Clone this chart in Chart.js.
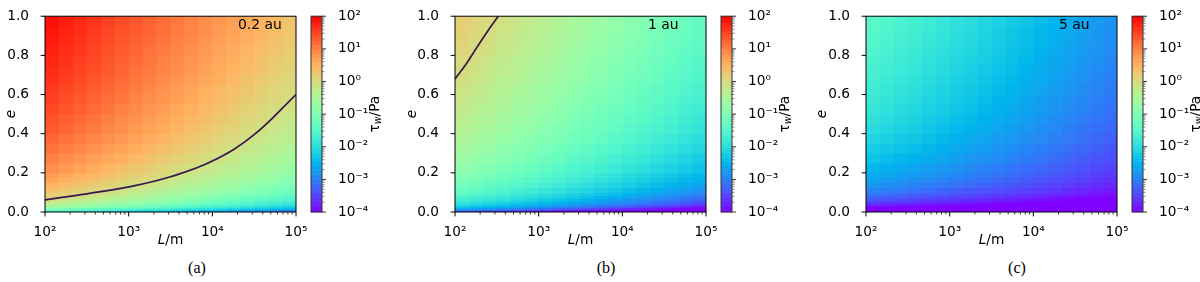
<!DOCTYPE html>
<html>
<head>
<meta charset="utf-8">
<script src="https://cdn.jsdelivr.net/npm/chart.js@4.4.1/dist/chart.umd.min.js"></script>
<style>
  body { margin: 0; background: #fff; }
  #wrap { position: relative; width: 1200px; height: 282px; overflow: hidden; }
  #wrap canvas { position: absolute; left: 0; top: 0; }
  .cap { position: absolute; top: 259px; line-height: 18px; font-size: 16px;
         font-family: "Liberation Serif", "DejaVu Serif", serif; transform: translateX(-50%); }
</style>
</head>
<body>
<div id="wrap">
  <div class="cap" style="left:197px">(a)</div>
  <div class="cap" style="left:606px">(b)</div>
  <div class="cap" style="left:1017px">(c)</div>
</div>
<script>
// bordes de las celdas: L en m (1/6 de década), e
const lEdges = [100, 147, 215, 316, 464, 681, 1000, 1468, 2154, 3162, 4642, 6813,
                10000, 14678, 21544, 31623, 46416, 68129, 100000];
const eEdges = [0, 0.005, 0.01, 0.02, 0.03, 0.04, 0.055, 0.07, 0.085, 0.1, 0.125, 0.15, 0.175, 0.2,
                0.25, 0.3, 0.35, 0.4, 0.45, 0.5, 0.55, 0.6, 0.65, 0.7, 0.75, 0.8, 0.85, 0.9, 0.95, 1.0];

const tau02 = [
  [-1.66, -1.75, -1.84, -1.93, -2.02, -2.11, -2.20, -2.29, -2.38, -2.47, -2.56, -2.65, -2.74, -2.83, -2.92, -3.01, -3.10, -3.19],
  [-1.51, -1.60, -1.69, -1.78, -1.87, -1.96, -2.05, -2.14, -2.23, -2.32, -2.41, -2.50, -2.59, -2.68, -2.77, -2.86, -2.95, -3.04],
  [-1.03, -1.12, -1.21, -1.30, -1.39, -1.48, -1.57, -1.66, -1.75, -1.84, -1.93, -2.02, -2.11, -2.20, -2.29, -2.38, -2.47, -2.56],
  [-0.67, -0.76, -0.85, -0.94, -1.03, -1.12, -1.21, -1.30, -1.39, -1.48, -1.57, -1.66, -1.75, -1.84, -1.93, -2.02, -2.11, -2.20],
  [-0.44, -0.53, -0.62, -0.71, -0.80, -0.89, -0.98, -1.07, -1.16, -1.25, -1.34, -1.43, -1.52, -1.61, -1.70, -1.79, -1.88, -1.97],
  [-0.23, -0.32, -0.41, -0.50, -0.59, -0.68, -0.77, -0.86, -0.95, -1.04, -1.13, -1.22, -1.31, -1.40, -1.49, -1.58, -1.67, -1.76],
  [-0.04, -0.13, -0.22, -0.31, -0.40, -0.49, -0.58, -0.67, -0.76, -0.85, -0.94, -1.03, -1.12, -1.21, -1.30, -1.39, -1.48, -1.57],
  [0.11, 0.02, -0.07, -0.16, -0.25, -0.34, -0.43, -0.52, -0.61, -0.70, -0.79, -0.88, -0.97, -1.06, -1.15, -1.24, -1.33, -1.42],
  [0.24, 0.15, 0.06, -0.03, -0.12, -0.21, -0.30, -0.39, -0.48, -0.57, -0.66, -0.75, -0.84, -0.93, -1.02, -1.11, -1.20, -1.29],
  [0.37, 0.28, 0.19, 0.10, 0.01, -0.08, -0.17, -0.26, -0.35, -0.44, -0.53, -0.62, -0.71, -0.80, -0.89, -0.98, -1.07, -1.16],
  [0.51, 0.42, 0.33, 0.24, 0.15, 0.06, -0.03, -0.12, -0.21, -0.30, -0.39, -0.48, -0.57, -0.66, -0.75, -0.84, -0.93, -1.02],
  [0.63, 0.54, 0.45, 0.36, 0.27, 0.18, 0.09, 0.00, -0.09, -0.18, -0.27, -0.36, -0.45, -0.54, -0.63, -0.72, -0.81, -0.90],
  [0.73, 0.64, 0.55, 0.46, 0.37, 0.28, 0.19, 0.10, 0.01, -0.08, -0.17, -0.26, -0.35, -0.44, -0.53, -0.62, -0.71, -0.80],
  [0.85, 0.76, 0.67, 0.58, 0.49, 0.40, 0.31, 0.22, 0.13, 0.04, -0.05, -0.14, -0.23, -0.32, -0.41, -0.50, -0.59, -0.68],
  [0.99, 0.90, 0.81, 0.72, 0.63, 0.54, 0.45, 0.36, 0.27, 0.18, 0.09, 0.00, -0.09, -0.18, -0.27, -0.36, -0.45, -0.54],
  [1.11, 1.02, 0.93, 0.84, 0.75, 0.66, 0.57, 0.48, 0.39, 0.30, 0.21, 0.12, 0.03, -0.06, -0.15, -0.24, -0.33, -0.42],
  [1.21, 1.12, 1.03, 0.94, 0.85, 0.76, 0.67, 0.58, 0.49, 0.40, 0.31, 0.22, 0.13, 0.04, -0.05, -0.14, -0.23, -0.32],
  [1.30, 1.21, 1.12, 1.03, 0.94, 0.85, 0.76, 0.67, 0.58, 0.49, 0.40, 0.31, 0.22, 0.13, 0.04, -0.05, -0.14, -0.23],
  [1.37, 1.28, 1.19, 1.10, 1.01, 0.92, 0.83, 0.74, 0.65, 0.56, 0.47, 0.38, 0.29, 0.20, 0.11, 0.02, -0.07, -0.16],
  [1.44, 1.35, 1.26, 1.17, 1.08, 0.99, 0.90, 0.81, 0.72, 0.63, 0.54, 0.45, 0.36, 0.27, 0.18, 0.09, 0.00, -0.09],
  [1.51, 1.42, 1.33, 1.24, 1.15, 1.06, 0.97, 0.88, 0.79, 0.70, 0.61, 0.52, 0.43, 0.34, 0.25, 0.16, 0.07, -0.02],
  [1.56, 1.47, 1.38, 1.29, 1.20, 1.11, 1.02, 0.93, 0.84, 0.75, 0.66, 0.57, 0.48, 0.39, 0.30, 0.21, 0.12, 0.03],
  [1.62, 1.53, 1.44, 1.35, 1.26, 1.17, 1.08, 0.99, 0.90, 0.81, 0.72, 0.63, 0.54, 0.45, 0.36, 0.27, 0.18, 0.09],
  [1.67, 1.58, 1.49, 1.40, 1.31, 1.22, 1.13, 1.04, 0.95, 0.86, 0.77, 0.68, 0.59, 0.50, 0.41, 0.32, 0.23, 0.14],
  [1.71, 1.62, 1.53, 1.44, 1.35, 1.26, 1.17, 1.08, 0.99, 0.90, 0.81, 0.72, 0.63, 0.54, 0.45, 0.36, 0.27, 0.18],
  [1.76, 1.67, 1.58, 1.49, 1.40, 1.31, 1.22, 1.13, 1.04, 0.95, 0.86, 0.77, 0.68, 0.59, 0.50, 0.41, 0.32, 0.23],
  [1.80, 1.71, 1.62, 1.53, 1.44, 1.35, 1.26, 1.17, 1.08, 0.99, 0.90, 0.81, 0.72, 0.63, 0.54, 0.45, 0.36, 0.27],
  [1.84, 1.75, 1.66, 1.57, 1.48, 1.39, 1.30, 1.21, 1.12, 1.03, 0.94, 0.85, 0.76, 0.67, 0.58, 0.49, 0.40, 0.31],
  [1.87, 1.78, 1.69, 1.60, 1.51, 1.42, 1.33, 1.24, 1.15, 1.06, 0.97, 0.88, 0.79, 0.70, 0.61, 0.52, 0.43, 0.34]
];
const tau1 = [
  [-3.32, -3.41, -3.50, -3.59, -3.68, -3.77, -3.86, -3.95, -4.00, -4.00, -4.00, -4.00, -4.00, -4.00, -4.00, -4.00, -4.00, -4.00],
  [-3.17, -3.26, -3.35, -3.44, -3.53, -3.62, -3.71, -3.80, -3.89, -3.98, -4.00, -4.00, -4.00, -4.00, -4.00, -4.00, -4.00, -4.00],
  [-2.69, -2.78, -2.87, -2.96, -3.05, -3.14, -3.23, -3.32, -3.41, -3.50, -3.59, -3.68, -3.77, -3.86, -3.95, -4.00, -4.00, -4.00],
  [-2.33, -2.42, -2.51, -2.60, -2.69, -2.78, -2.87, -2.96, -3.05, -3.14, -3.23, -3.32, -3.41, -3.50, -3.59, -3.68, -3.77, -3.86],
  [-2.10, -2.19, -2.28, -2.37, -2.46, -2.55, -2.64, -2.73, -2.82, -2.91, -3.00, -3.09, -3.18, -3.27, -3.36, -3.45, -3.54, -3.63],
  [-1.89, -1.98, -2.07, -2.16, -2.25, -2.34, -2.43, -2.52, -2.61, -2.70, -2.79, -2.88, -2.97, -3.06, -3.15, -3.24, -3.33, -3.42],
  [-1.70, -1.79, -1.88, -1.97, -2.06, -2.15, -2.24, -2.33, -2.42, -2.51, -2.60, -2.69, -2.78, -2.87, -2.96, -3.05, -3.14, -3.23],
  [-1.55, -1.64, -1.73, -1.82, -1.91, -2.00, -2.09, -2.18, -2.27, -2.36, -2.45, -2.54, -2.63, -2.72, -2.81, -2.90, -2.99, -3.08],
  [-1.42, -1.51, -1.60, -1.69, -1.78, -1.87, -1.96, -2.05, -2.14, -2.23, -2.32, -2.41, -2.50, -2.59, -2.68, -2.77, -2.86, -2.95],
  [-1.29, -1.38, -1.47, -1.56, -1.65, -1.74, -1.83, -1.92, -2.01, -2.10, -2.19, -2.28, -2.37, -2.46, -2.55, -2.64, -2.73, -2.82],
  [-1.15, -1.24, -1.33, -1.42, -1.51, -1.60, -1.69, -1.78, -1.87, -1.96, -2.05, -2.14, -2.23, -2.32, -2.41, -2.50, -2.59, -2.68],
  [-1.03, -1.12, -1.21, -1.30, -1.39, -1.48, -1.57, -1.66, -1.75, -1.84, -1.93, -2.02, -2.11, -2.20, -2.29, -2.38, -2.47, -2.56],
  [-0.93, -1.02, -1.11, -1.20, -1.29, -1.38, -1.47, -1.56, -1.65, -1.74, -1.83, -1.92, -2.01, -2.10, -2.19, -2.28, -2.37, -2.46],
  [-0.81, -0.90, -0.99, -1.08, -1.17, -1.26, -1.35, -1.44, -1.53, -1.62, -1.71, -1.80, -1.89, -1.98, -2.07, -2.16, -2.25, -2.34],
  [-0.67, -0.76, -0.85, -0.94, -1.03, -1.12, -1.21, -1.30, -1.39, -1.48, -1.57, -1.66, -1.75, -1.84, -1.93, -2.02, -2.11, -2.20],
  [-0.55, -0.64, -0.73, -0.82, -0.91, -1.00, -1.09, -1.18, -1.27, -1.36, -1.45, -1.54, -1.63, -1.72, -1.81, -1.90, -1.99, -2.08],
  [-0.45, -0.54, -0.63, -0.72, -0.81, -0.90, -0.99, -1.08, -1.17, -1.26, -1.35, -1.44, -1.53, -1.62, -1.71, -1.80, -1.89, -1.98],
  [-0.36, -0.45, -0.54, -0.63, -0.72, -0.81, -0.90, -0.99, -1.08, -1.17, -1.26, -1.35, -1.44, -1.53, -1.62, -1.71, -1.80, -1.89],
  [-0.29, -0.38, -0.47, -0.56, -0.65, -0.74, -0.83, -0.92, -1.01, -1.10, -1.19, -1.28, -1.37, -1.46, -1.55, -1.64, -1.73, -1.82],
  [-0.22, -0.31, -0.40, -0.49, -0.58, -0.67, -0.76, -0.85, -0.94, -1.03, -1.12, -1.21, -1.30, -1.39, -1.48, -1.57, -1.66, -1.75],
  [-0.15, -0.24, -0.33, -0.42, -0.51, -0.60, -0.69, -0.78, -0.87, -0.96, -1.05, -1.14, -1.23, -1.32, -1.41, -1.50, -1.59, -1.68],
  [-0.10, -0.19, -0.28, -0.37, -0.46, -0.55, -0.64, -0.73, -0.82, -0.91, -1.00, -1.09, -1.18, -1.27, -1.36, -1.45, -1.54, -1.63],
  [-0.04, -0.13, -0.22, -0.31, -0.40, -0.49, -0.58, -0.67, -0.76, -0.85, -0.94, -1.03, -1.12, -1.21, -1.30, -1.39, -1.48, -1.57],
  [0.01, -0.08, -0.17, -0.26, -0.35, -0.44, -0.53, -0.62, -0.71, -0.80, -0.89, -0.98, -1.07, -1.16, -1.25, -1.34, -1.43, -1.52],
  [0.05, -0.04, -0.13, -0.22, -0.31, -0.40, -0.49, -0.58, -0.67, -0.76, -0.85, -0.94, -1.03, -1.12, -1.21, -1.30, -1.39, -1.48],
  [0.10, 0.01, -0.08, -0.17, -0.26, -0.35, -0.44, -0.53, -0.62, -0.71, -0.80, -0.89, -0.98, -1.07, -1.16, -1.25, -1.34, -1.43],
  [0.14, 0.05, -0.04, -0.13, -0.22, -0.31, -0.40, -0.49, -0.58, -0.67, -0.76, -0.85, -0.94, -1.03, -1.12, -1.21, -1.30, -1.39],
  [0.18, 0.09, 0.00, -0.09, -0.18, -0.27, -0.36, -0.45, -0.54, -0.63, -0.72, -0.81, -0.90, -0.99, -1.08, -1.17, -1.26, -1.35],
  [0.21, 0.12, 0.03, -0.06, -0.15, -0.24, -0.33, -0.42, -0.51, -0.60, -0.69, -0.78, -0.87, -0.96, -1.05, -1.14, -1.23, -1.32]
];
const tau5 = [
  [-4.00, -4.00, -4.00, -4.00, -4.00, -4.00, -4.00, -4.00, -4.00, -4.00, -4.00, -4.00, -4.00, -4.00, -4.00, -4.00, -4.00, -4.00],
  [-4.00, -4.00, -4.00, -4.00, -4.00, -4.00, -4.00, -4.00, -4.00, -4.00, -4.00, -4.00, -4.00, -4.00, -4.00, -4.00, -4.00, -4.00],
  [-4.00, -4.00, -4.00, -4.00, -4.00, -4.00, -4.00, -4.00, -4.00, -4.00, -4.00, -4.00, -4.00, -4.00, -4.00, -4.00, -4.00, -4.00],
  [-4.00, -4.00, -4.00, -4.00, -4.00, -4.00, -4.00, -4.00, -4.00, -4.00, -4.00, -4.00, -4.00, -4.00, -4.00, -4.00, -4.00, -4.00],
  [-3.77, -3.80, -3.84, -3.87, -3.91, -3.94, -3.98, -4.00, -4.00, -4.00, -4.00, -4.00, -4.00, -4.00, -4.00, -4.00, -4.00, -4.00],
  [-3.56, -3.60, -3.64, -3.68, -3.72, -3.76, -3.79, -3.83, -3.87, -3.91, -3.95, -3.99, -4.00, -4.00, -4.00, -4.00, -4.00, -4.00],
  [-3.36, -3.40, -3.45, -3.49, -3.53, -3.57, -3.62, -3.66, -3.70, -3.75, -3.79, -3.83, -3.87, -3.92, -3.96, -4.00, -4.00, -4.00],
  [-3.21, -3.26, -3.30, -3.35, -3.39, -3.44, -3.49, -3.53, -3.58, -3.62, -3.67, -3.71, -3.76, -3.81, -3.85, -3.90, -3.94, -3.99],
  [-3.09, -3.14, -3.19, -3.24, -3.28, -3.33, -3.38, -3.43, -3.48, -3.53, -3.57, -3.62, -3.67, -3.72, -3.77, -3.82, -3.86, -3.91],
  [-2.95, -3.00, -3.05, -3.10, -3.15, -3.21, -3.26, -3.31, -3.36, -3.41, -3.46, -3.51, -3.56, -3.61, -3.67, -3.72, -3.77, -3.82],
  [-2.81, -2.86, -2.92, -2.97, -3.03, -3.08, -3.13, -3.19, -3.24, -3.30, -3.35, -3.40, -3.46, -3.51, -3.57, -3.62, -3.67, -3.73],
  [-2.69, -2.75, -2.80, -2.86, -2.92, -2.97, -3.03, -3.08, -3.14, -3.20, -3.25, -3.31, -3.37, -3.42, -3.48, -3.53, -3.59, -3.65],
  [-2.59, -2.65, -2.71, -2.77, -2.82, -2.88, -2.94, -3.00, -3.06, -3.11, -3.17, -3.23, -3.29, -3.35, -3.41, -3.46, -3.52, -3.58],
  [-2.47, -2.53, -2.59, -2.65, -2.71, -2.77, -2.83, -2.90, -2.96, -3.02, -3.08, -3.14, -3.20, -3.26, -3.32, -3.38, -3.44, -3.50],
  [-2.33, -2.39, -2.46, -2.52, -2.58, -2.65, -2.71, -2.78, -2.84, -2.90, -2.97, -3.03, -3.09, -3.16, -3.22, -3.28, -3.35, -3.41],
  [-2.21, -2.28, -2.34, -2.41, -2.47, -2.54, -2.61, -2.67, -2.74, -2.80, -2.87, -2.94, -3.00, -3.07, -3.13, -3.20, -3.27, -3.33],
  [-2.11, -2.18, -2.25, -2.31, -2.38, -2.45, -2.52, -2.59, -2.65, -2.72, -2.79, -2.86, -2.93, -2.99, -3.06, -3.13, -3.20, -3.27],
  [-2.02, -2.09, -2.16, -2.23, -2.30, -2.37, -2.44, -2.51, -2.58, -2.65, -2.72, -2.79, -2.86, -2.93, -3.00, -3.07, -3.14, -3.20],
  [-1.94, -2.01, -2.08, -2.15, -2.23, -2.30, -2.37, -2.44, -2.51, -2.58, -2.65, -2.72, -2.80, -2.87, -2.94, -3.01, -3.08, -3.15],
  [-1.87, -1.94, -2.02, -2.09, -2.16, -2.23, -2.31, -2.38, -2.45, -2.52, -2.60, -2.67, -2.74, -2.82, -2.89, -2.96, -3.03, -3.11],
  [-1.81, -1.88, -1.96, -2.03, -2.11, -2.18, -2.25, -2.33, -2.40, -2.48, -2.55, -2.62, -2.70, -2.77, -2.85, -2.92, -2.99, -3.07],
  [-1.75, -1.83, -1.90, -1.98, -2.05, -2.13, -2.20, -2.28, -2.35, -2.43, -2.50, -2.58, -2.65, -2.73, -2.80, -2.88, -2.95, -3.03],
  [-1.70, -1.78, -1.85, -1.93, -2.00, -2.08, -2.16, -2.23, -2.31, -2.39, -2.46, -2.54, -2.61, -2.69, -2.77, -2.84, -2.92, -3.00],
  [-1.65, -1.73, -1.80, -1.88, -1.96, -2.04, -2.11, -2.19, -2.27, -2.34, -2.42, -2.50, -2.58, -2.65, -2.73, -2.81, -2.89, -2.96],
  [-1.60, -1.68, -1.76, -1.83, -1.91, -1.99, -2.07, -2.15, -2.22, -2.30, -2.38, -2.46, -2.54, -2.62, -2.69, -2.77, -2.85, -2.93],
  [-1.56, -1.64, -1.72, -1.80, -1.88, -1.96, -2.03, -2.11, -2.19, -2.27, -2.35, -2.43, -2.51, -2.59, -2.67, -2.75, -2.82, -2.90],
  [-1.51, -1.59, -1.67, -1.75, -1.83, -1.91, -1.99, -2.07, -2.15, -2.23, -2.31, -2.39, -2.47, -2.55, -2.63, -2.71, -2.79, -2.87],
  [-1.48, -1.56, -1.64, -1.72, -1.80, -1.88, -1.96, -2.04, -2.12, -2.21, -2.29, -2.37, -2.45, -2.53, -2.61, -2.69, -2.77, -2.85],
  [-1.44, -1.52, -1.60, -1.68, -1.77, -1.85, -1.93, -2.01, -2.09, -2.17, -2.25, -2.33, -2.42, -2.50, -2.58, -2.66, -2.74, -2.82]
];

// curvas de nivel tau_w = 1 Pa
const contour02L = [100, 316, 1000, 3162, 10000, 31623, 100000];
const contour02e = [0.062, 0.093, 0.128, 0.18, 0.26, 0.395, 0.6];
const contour1L = [100, 138, 182, 251, 329];
const contour1e = [0.68, 0.76, 0.84, 0.93, 1.0];

const xTicks = [100, 1000, 10000, 100000];
const yTicks = [0, 0.2, 0.4, 0.6, 0.8, 1.0];
const cbTicks = [1e-4, 1e-3, 1e-2, 1e-1, 1, 10, 100];
const panelLabels = ['0.2 au', '1 au', '5 au'];

const FONT = '"DejaVu Sans", "Liberation Sans", sans-serif';
const FS = 13.7;
Chart.defaults.font.family = FONT;
Chart.defaults.font.size = FS;
Chart.defaults.color = '#000';

const SUP = {'-': '⁻', '0': '⁰', '1': '¹', '2': '²', '3': '³', '4': '⁴', '5': '⁵', '6': '⁶', '7': '⁷', '8': '⁸', '9': '⁹'};
function pow10Label(v) {
    const k = Math.round(Math.log10(v));
    return '10' + String(k).split('').map(c => SUP[c]).join('');
}

// mapa de color "rainbow" de matplotlib
function rainbow(t) {
    t = Math.min(1, Math.max(0, t));
    const r = Math.min(1, Math.abs(2 * t - 0.5));
    const g = Math.sin(Math.PI * t);
    const b = Math.cos(Math.PI * t / 2);
    return 'rgb(' + Math.round(r * 255) + ',' + Math.round(g * 255) + ',' + Math.round(b * 255) + ')';
}
function colorFor(logTau) {
    return rainbow((logTau + 4) / 6);
}

function minorValues(decades) {
    const out = [];
    decades.forEach(d => { for (let m = 2; m <= 9; m++) out.push(m * d); });
    return out;
}

function heatmapPlugin(grid) {
    return {
        id: 'heatmap',
        beforeDatasetsDraw(chart) {
            const {ctx, chartArea: a, scales: {x, y}} = chart;
            ctx.save();
            ctx.beginPath();
            ctx.rect(a.left, a.top, a.right - a.left, a.bottom - a.top);
            ctx.clip();
            for (let j = 0; j < eEdges.length - 1; j++) {
                const yTop = y.getPixelForValue(eEdges[j + 1]);
                const yBot = y.getPixelForValue(eEdges[j]);
                for (let i = 0; i < lEdges.length - 1; i++) {
                    const xl = x.getPixelForValue(lEdges[i]);
                    const xr = x.getPixelForValue(lEdges[i + 1]);
                    ctx.fillStyle = colorFor(grid[j][i]);
                    ctx.fillRect(xl, yTop - 0.3, xr - xl + 0.6, yBot - yTop + 0.6);
                }
            }
            ctx.restore();
        }
    };
}

function framePlugin(label, eTitleX) {
    return {
        id: 'frame',
        afterDraw(chart) {
            const {ctx, chartArea: a, scales: {x, y}} = chart;
            ctx.save();
            ctx.strokeStyle = '#000';
            ctx.lineWidth = 1;
            ctx.strokeRect(a.left, a.top, a.right - a.left, a.bottom - a.top);

            // marcas de los ejes
            ctx.beginPath();
            xTicks.forEach(v => {
                const px = x.getPixelForValue(v);
                ctx.moveTo(px, a.bottom); ctx.lineTo(px, a.bottom + 4.4);
            });
            yTicks.forEach(v => {
                const py = y.getPixelForValue(v);
                ctx.moveTo(a.left, py); ctx.lineTo(a.left - 4.4, py);
            });
            ctx.stroke();
            ctx.lineWidth = 0.75;
            ctx.beginPath();
            minorValues([100, 1000, 10000]).forEach(v => {
                const px = x.getPixelForValue(v);
                ctx.moveTo(px, a.bottom); ctx.lineTo(px, a.bottom + 2.5);
            });
            ctx.stroke();

            // texto del panel
            ctx.fillStyle = '#000';
            ctx.font = '13.9px ' + FONT;
            ctx.textAlign = 'left';
            ctx.textBaseline = 'middle';
            ctx.fillText(label, a.left + 193, 25.5);

            // titulo del eje x: L/m
            const cx = (a.left + a.right) / 2;
            ctx.font = 'italic ' + FS + 'px ' + FONT;
            const wL = ctx.measureText('L').width;
            ctx.font = FS + 'px ' + FONT;
            const wM = ctx.measureText('/m').width;
            const x0 = cx - (wL + wM) / 2;
            ctx.font = 'italic ' + FS + 'px ' + FONT;
            ctx.fillText('L', x0, 240);
            ctx.font = FS + 'px ' + FONT;
            ctx.fillText('/m', x0 + wL, 240);

            // titulo del eje y: e
            ctx.translate(eTitleX, (a.top + a.bottom) / 2);
            ctx.rotate(-Math.PI / 2);
            ctx.textAlign = 'center';
            ctx.font = 'italic ' + FS + 'px ' + FONT;
            ctx.fillText('e', 0, 0);
            ctx.restore();
        }
    };
}

const colorbarPlugin = {
    id: 'colorbar',
    beforeDatasetsDraw(chart) {
        const {ctx, chartArea: a, scales: {y}} = chart;
        ctx.save();
        const n = 240;
        for (let k = 0; k < n; k++) {
            const lo = -4 + 6 * k / n, hi = -4 + 6 * (k + 1) / n;
            const yLo = y.getPixelForValue(Math.pow(10, lo));
            const yHi = y.getPixelForValue(Math.pow(10, hi));
            ctx.fillStyle = colorFor((lo + hi) / 2);
            ctx.fillRect(a.left, yHi - 0.3, a.right - a.left, yLo - yHi + 0.6);
        }
        ctx.strokeStyle = '#333';
        ctx.lineWidth = 1;
        ctx.strokeRect(a.left, a.top, a.right - a.left, a.bottom - a.top);
        ctx.beginPath();
        cbTicks.forEach(v => {
            const py = y.getPixelForValue(v);
            ctx.moveTo(a.right, py); ctx.lineTo(a.right + 4, py);
        });
        ctx.stroke();
        ctx.lineWidth = 0.7;
        ctx.strokeStyle = '#555';
        ctx.beginPath();
        minorValues([1e-4, 1e-3, 1e-2, 1e-1, 1, 10]).forEach(v => {
            const py = y.getPixelForValue(v);
            ctx.moveTo(a.right - 1, py); ctx.lineTo(a.right + 2.5, py);
        });
        ctx.stroke();

        // etiqueta de la barra: tau_w/Pa
        ctx.translate(a.right + 53, (a.top + a.bottom) / 2);
        ctx.rotate(-Math.PI / 2);
        ctx.fillStyle = '#000';
        ctx.textBaseline = 'middle';
        ctx.textAlign = 'left';
        ctx.font = FS + 'px ' + FONT;
        const wT = ctx.measureText('τ').width;
        const wP = ctx.measureText('/Pa').width;
        ctx.font = 'italic 9.6px ' + FONT;
        const wW = ctx.measureText('w').width;
        const x0 = -(wT + wW + wP) / 2;
        ctx.font = FS + 'px ' + FONT;
        ctx.fillText('τ', x0, 0);
        ctx.font = 'italic 9.6px ' + FONT;
        ctx.fillText('w', x0 + wT, 3.2);
        ctx.font = FS + 'px ' + FONT;
        ctx.fillText('/Pa', x0 + wT + wW, 0);
        ctx.restore();
    }
};

function addCanvas() {
    const c = document.createElement('canvas');
    c.width = 1200;
    c.height = 282;
    document.getElementById('wrap').appendChild(c);
    return c;
}

const panels = [
    {grid: tau02, left: 45, eX: 11.5, cL: contour02L, cE: contour02e},
    {grid: tau1, left: 455, eX: 412, cL: contour1L, cE: contour1e},
    {grid: tau5, left: 866, eX: 822, cL: null, cE: null}
];
const PW = 251;

panels.forEach((p, idx) => {
    const datasets = [];
    if (p.cL) {
        datasets.push({
            data: p.cL.map((l, i) => ({x: l, y: p.cE[i]})),
            showLine: true,
            borderColor: '#3a1650',
            borderWidth: 1.7,
            pointRadius: 0,
            tension: 0.4
        });
    }
    new Chart(addCanvas(), {
        type: 'scatter',
        data: {datasets},
        options: {
            responsive: false,
            animation: false,
            events: [],
            layout: {padding: {left: p.left - 45, right: 1200 - p.left - PW, top: 9.5, bottom: 0}},
            plugins: {legend: {display: false}, tooltip: {enabled: false}},
            scales: {
                x: {
                    type: 'logarithmic', min: 100, max: 100000,
                    grid: {display: false}, border: {display: false},
                    afterBuildTicks: s => { s.ticks = xTicks.map(v => ({value: v})); },
                    afterFit: s => { s.height = 70; },
                    ticks: {callback: v => pow10Label(v), autoSkip: false, maxRotation: 0, padding: 4}
                },
                y: {
                    type: 'linear', min: 0, max: 1,
                    grid: {display: false}, border: {display: false},
                    afterBuildTicks: s => { s.ticks = yTicks.map(v => ({value: v})); },
                    afterFit: s => { s.width = 45; },
                    ticks: {callback: v => v.toFixed(1), padding: 8}
                }
            }
        },
        plugins: [heatmapPlugin(p.grid), framePlugin(panelLabels[idx], p.eX)]
    });

    const cbLeft = p.left + PW + 15;
    new Chart(addCanvas(), {
        type: 'scatter',
        data: {datasets: []},
        options: {
            responsive: false,
            animation: false,
            events: [],
            layout: {padding: {left: cbLeft, right: 1200 - cbLeft - 11 - 70, top: 9.5, bottom: 70}},
            plugins: {legend: {display: false}, tooltip: {enabled: false}},
            scales: {
                x: {display: false, min: 0, max: 1},
                y: {
                    type: 'logarithmic', position: 'right', min: 1e-4, max: 100,
                    grid: {display: false}, border: {display: false},
                    afterBuildTicks: s => { s.ticks = cbTicks.map(v => ({value: v})); },
                    afterFit: s => { s.width = 70; },
                    ticks: {callback: v => pow10Label(v), autoSkip: false, padding: 8}
                }
            }
        },
        plugins: [colorbarPlugin]
    });
});
</script>
</body>
</html>
